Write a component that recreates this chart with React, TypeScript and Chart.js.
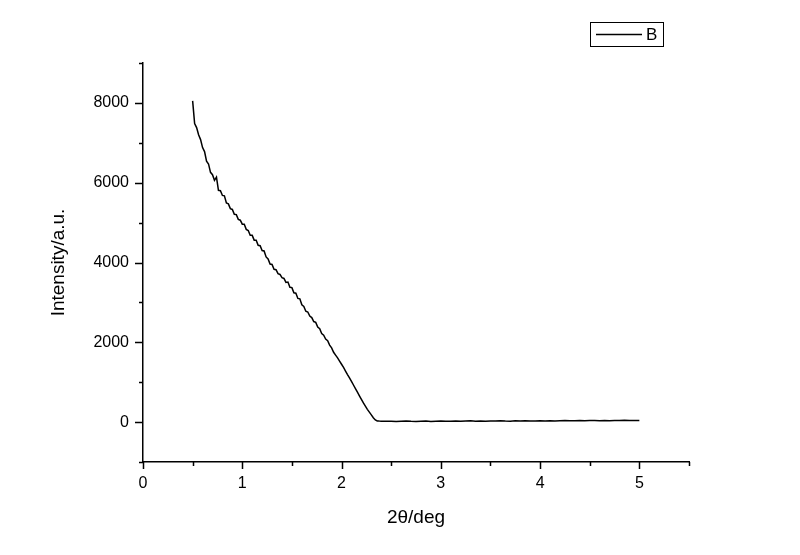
import React, { useEffect, useRef } from "react";
import { Chart, registerables } from "chart.js";

Chart.register(...registerables);

// 2θ (deg) sample positions, descending part
const X_DROP = [
  0.50, 0.52, 0.54, 0.56, 0.58, 0.60, 0.62, 0.64, 0.66, 0.68,
  0.70, 0.72, 0.74, 0.76, 0.78, 0.80, 0.82, 0.84, 0.86, 0.88,
  0.90, 0.92, 0.94, 0.96, 0.98, 1.00, 1.02, 1.04, 1.06, 1.08,
  1.10, 1.12, 1.14, 1.16, 1.18, 1.20, 1.22, 1.24, 1.26, 1.28,
  1.30, 1.32, 1.34, 1.36, 1.38, 1.40, 1.42, 1.44, 1.46, 1.48,
  1.50, 1.52, 1.54, 1.56, 1.58, 1.60, 1.62, 1.64, 1.66, 1.68,
  1.70, 1.72, 1.74, 1.76, 1.78, 1.80, 1.82, 1.84, 1.86, 1.88,
  1.90, 1.92, 1.94, 1.96, 1.98, 2.00, 2.02, 2.04, 2.06, 2.08,
  2.10, 2.12, 2.14, 2.16, 2.18, 2.20, 2.22, 2.24, 2.26, 2.28,
  2.30, 2.32, 2.34, 2.36, 2.38, 2.40,
];
const Y_DROP = [
  8050, 7480, 7380, 7200, 7080, 6880, 6780, 6540, 6470, 6260,
  6200, 6060, 6140, 5810, 5800, 5680, 5670, 5490, 5470, 5350,
  5330, 5210, 5200, 5080, 5060, 4960, 4960, 4830, 4800, 4680,
  4680, 4560, 4560, 4430, 4420, 4300, 4290, 4140, 4090, 3960,
  3950, 3830, 3820, 3720, 3700, 3620, 3600, 3500, 3510, 3380,
  3370, 3240, 3230, 3100, 3090, 2940, 2900, 2780, 2760, 2660,
  2620, 2520, 2500, 2380, 2340, 2220, 2180, 2080, 2040, 1930,
  1860, 1750, 1680, 1610, 1530, 1450, 1370, 1280, 1190, 1110,
  1020, 930, 840, 750, 660, 570, 480, 400, 320, 250,
  180, 110, 55, 30, 25, 22,
];
// flat tail
const X_FLAT = [
  2.45, 2.50, 2.55, 2.60, 2.65, 2.70, 2.75, 2.80, 2.85, 2.90,
  2.95, 3.00, 3.05, 3.10, 3.15, 3.20, 3.25, 3.30, 3.35, 3.40,
  3.45, 3.50, 3.55, 3.60, 3.65, 3.70, 3.75, 3.80, 3.85, 3.90,
  3.95, 4.00, 4.05, 4.10, 4.15, 4.20, 4.25, 4.30, 4.35, 4.40,
  4.45, 4.50, 4.55, 4.60, 4.65, 4.70, 4.75, 4.80, 4.85, 4.90,
  4.95, 5.00,
];
const Y_FLAT = [
  20, 24, 18, 22, 26, 19, 15, 21, 25, 18,
  22, 27, 20, 24, 29, 22, 26, 31, 24, 28,
  22, 30, 26, 33, 27, 24, 31, 28, 35, 29,
  26, 33, 30, 36, 29, 34, 38, 31, 35, 40,
  33, 37, 42, 36, 39, 34, 41, 38, 44, 37,
  40, 42,
];

const X_MAJOR = [0, 1, 2, 3, 4, 5];
const X_MINOR = [0.5, 1.5, 2.5, 3.5, 4.5, 5.5];
const Y_MAJOR = [0, 2000, 4000, 6000, 8000];
const Y_MINOR = [-1000, 1000, 3000, 5000, 7000, 9000];

const SERIES_LABEL = "B";
const X_TITLE = "2\u03b8/deg";
const Y_TITLE = "Intensity/a.u.";

const FONT = "'Liberation Sans', Arial, sans-serif";

const tickPlugin = {
  id: "originTicks",
  afterDraw(chart: any) {
    const { ctx } = chart;
    const xs = chart.scales.x;
    const ys = chart.scales.y;
    const x0 = xs.left;
    const y0 = ys.bottom;
    ctx.save();
    ctx.strokeStyle = "#000";
    ctx.lineWidth = 1.5;
    ctx.beginPath();
    X_MAJOR.forEach((v) => {
      const p = Math.round(xs.getPixelForValue(v)) + 0.5;
      ctx.moveTo(p, y0);
      ctx.lineTo(p, y0 + 7);
    });
    X_MINOR.forEach((v) => {
      const p = Math.round(xs.getPixelForValue(v)) + 0.5;
      ctx.moveTo(p, y0);
      ctx.lineTo(p, y0 + 4);
    });
    Y_MAJOR.forEach((v) => {
      const p = Math.round(ys.getPixelForValue(v)) + 0.5;
      ctx.moveTo(x0, p);
      ctx.lineTo(x0 - 8, p);
    });
    Y_MINOR.forEach((v) => {
      const p = Math.round(ys.getPixelForValue(v)) + 0.5;
      ctx.moveTo(x0, p);
      ctx.lineTo(x0 - 4, p);
    });
    ctx.stroke();

    // legend box
    const label = chart.data.datasets[0].label;
    const bx = 590, by = 22, bw = 73, bh = 24;
    ctx.lineWidth = 1;
    ctx.strokeStyle = "#000";
    ctx.strokeRect(bx + 0.5, by + 0.5, bw, bh);
    ctx.beginPath();
    ctx.lineWidth = 1.5;
    ctx.moveTo(bx + 6, by + 12.5);
    ctx.lineTo(bx + 52, by + 12.5);
    ctx.stroke();
    ctx.fillStyle = "#000";
    ctx.font = `17px ${FONT}`;
    ctx.textBaseline = "middle";
    ctx.textAlign = "left";
    ctx.fillText(label, bx + 56, by + 13);
    ctx.restore();
  },
};

export default function App() {
  const ref = useRef<HTMLCanvasElement | null>(null);
  useEffect(() => {
    if (!ref.current) return;
    const pts = [
      ...X_DROP.map((x, i) => ({ x, y: Y_DROP[i] })),
      ...X_FLAT.map((x, i) => ({ x, y: Y_FLAT[i] })),
    ];
    const chart = new Chart(ref.current, {
      type: "line",
      data: {
        datasets: [
          {
            label: SERIES_LABEL,
            data: pts,
            borderColor: "#000",
            borderWidth: 1.5,
            pointRadius: 0,
            tension: 0,
            fill: false,
          },
        ],
      },
      options: {
        animation: false,
        responsive: false,
        devicePixelRatio: 1,
        layout: { padding: { top: 63, right: 111, left: 0, bottom: 0 } },
        plugins: { legend: { display: false }, tooltip: { enabled: false } },
        scales: {
          x: {
            type: "linear",
            min: 0,
            max: 5.5,
            afterBuildTicks: (s: any) => {
              s.ticks = X_MAJOR.map((v) => ({ value: v }));
            },
            afterFit: (s: any) => {
              s.height = 555 - 462;
            },
            grid: { display: true, drawOnChartArea: false, drawTicks: false },
            border: { display: true, color: "#000", width: 1.5 },
            ticks: {
              color: "#000",
              padding: 12,
              font: { family: FONT, size: 16 },
              callback: (v: any) => String(v),
            },
            title: {
              display: true,
              text: X_TITLE,
              color: "#000",
              font: { family: FONT, size: 19 },
              padding: { top: 0, bottom: 26 },
            },
          },
          y: {
            type: "linear",
            min: -1000,
            max: 9000,
            afterBuildTicks: (s: any) => {
              s.ticks = Y_MAJOR.map((v) => ({ value: v }));
            },
            afterFit: (s: any) => {
              s.width = 143;
            },
            grid: { display: true, drawOnChartArea: false, drawTicks: false },
            border: { display: true, color: "#000", width: 1.5 },
            ticks: {
              color: "#000",
              padding: 14,
              font: { family: FONT, size: 16 },
              callback: (v: any) => String(v),
            },
            title: {
              display: true,
              text: Y_TITLE,
              color: "#000",
              font: { family: FONT, size: 19 },
              padding: { top: 47, bottom: 0 },
            },
          },
        },
      },
      plugins: [tickPlugin],
    });
    return () => chart.destroy();
  }, []);
  return (
    <div style={{ position: "fixed", left: 0, top: 0, width: 800, height: 555, background: "#fff" }}>
      <canvas ref={ref} width={800} height={555} />
    </div>
  );
}
